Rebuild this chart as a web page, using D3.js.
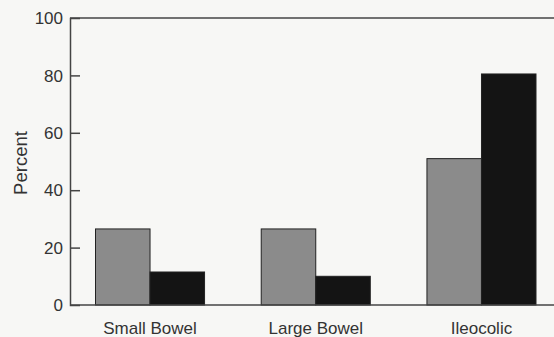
<!DOCTYPE html>
<html><head><meta charset="utf-8">
<script src="https://cdn.jsdelivr.net/npm/d3@7"></script>
<style>
html,body{margin:0;padding:0;background:#f7f7f5;}
svg{display:block;}
text{font-family:"Liberation Sans",Arial,Helvetica,sans-serif;fill:#333;}
</style></head>
<body>
<script>
const categories = ["Small Bowel", "Large Bowel", "Ileocolic"];
const seriesNames = ["Group A", "Group B"];
const seriesA = [26.5, 26.5, 51];
const seriesB = [11.5, 10, 80.5];
const yTicks = [0, 20, 40, 60, 80, 100];
const yLabel = "Percent";
const colors = ["#8b8b8b", "#141414"];

const W = 554, H = 337;
const svg = d3.select("body").append("svg").attr("width", W).attr("height", H);

const y = d3.scaleLinear().domain([0, 100]).range([305, 18]);
const x0 = d3.scaleBand().domain(categories).range([95.5, 536]).paddingInner(0.342).paddingOuter(0);
const x1 = d3.scaleBand().domain(seriesNames).range([0, x0.bandwidth()]).padding(0);

const data = categories.map((c, i) => ({cat: c, vals: [seriesA[i], seriesB[i]]}));

// bars
const g = svg.append("g");
data.forEach(d => {
  d.vals.forEach((v, j) => {
    g.append("rect")
      .attr("x", x0(d.cat) + x1(seriesNames[j]))
      .attr("y", y(v))
      .attr("width", x1.bandwidth())
      .attr("height", y(0) - y(v))
      .attr("fill", colors[j])
      .attr("stroke", "#222")
      .attr("stroke-width", 1);
  });
});

// frame lines
svg.append("line").attr("x1", 70).attr("x2", W).attr("y1", y(0)).attr("y2", y(0))
  .attr("stroke", "#444").attr("stroke-width", 1.5);
svg.append("line").attr("x1", 70).attr("x2", W).attr("y1", y(100)).attr("y2", y(100))
  .attr("stroke", "#444").attr("stroke-width", 1.5);

// y axis (ticks inward)
const yAxis = d3.axisRight(y).tickValues(yTicks).tickSize(10).tickFormat("");
const ya = svg.append("g").attr("transform", "translate(70,0)").call(yAxis);
ya.select(".domain").attr("stroke", "#444").attr("stroke-width", 1.5);
ya.selectAll(".tick line").attr("stroke", "#444").attr("stroke-width", 1.5)
  .filter(d => d === 0 || d === 100).remove();

svg.append("g").selectAll("text").data(yTicks).join("text")
  .attr("x", 63).attr("y", d => y(d)).attr("dy", "0.36em")
  .attr("text-anchor", "end").style("font-size", "17px")
  .text(d => d);

// x labels
svg.append("g").selectAll("text").data(categories).join("text")
  .attr("x", d => x0(d) + x0.bandwidth() / 2).attr("y", 333.5)
  .attr("text-anchor", "middle").style("font-size", "17px")
  .text(d => d);

// y label
svg.append("text").attr("transform", "translate(27,163) rotate(-90)")
  .attr("text-anchor", "middle").style("font-size", "18.5px").text(yLabel);
</script>
</body></html>
